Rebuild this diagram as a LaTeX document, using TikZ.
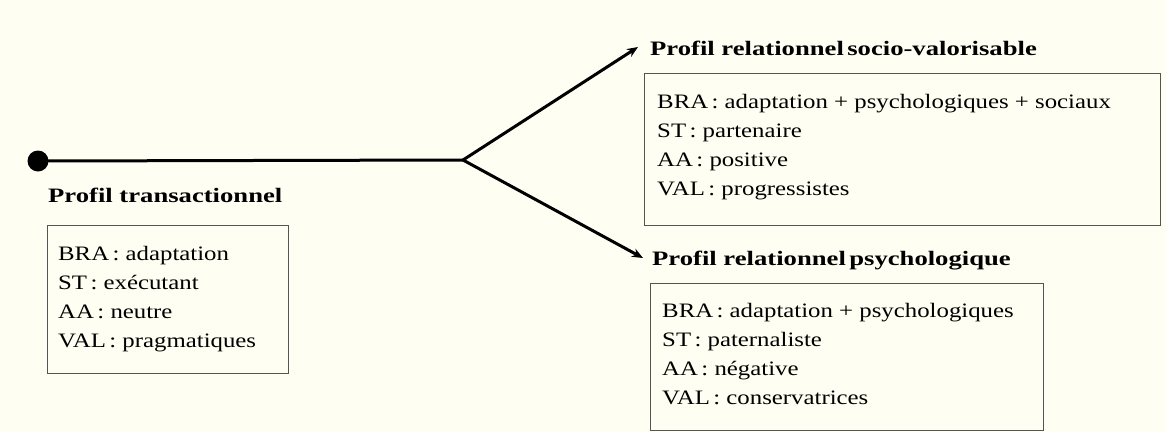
\documentclass[tikz,border=0pt]{standalone}
\usepackage{fontspec}
\setmainfont{Liberation Serif}[FakeStretch=1.21, BoldFeatures={FakeStretch=1.3}]
\usetikzlibrary{arrows.meta}
\definecolor{bg}{RGB}{255,254,242}
\definecolor{frame}{RGB}{85,85,85}
\begin{document}
\begin{tikzpicture}[x=1pt,y=-1pt,
  head/.style={font=\fontsize{20.5}{24}\selectfont\bfseries, inner sep=0pt, anchor=base west},
  boxframe/.style={draw=frame, line width=1pt, anchor=north west, inner sep=0pt},
  boxtext/.style={anchor=north west, align=left, inner sep=0pt,
              font=\fontsize{20.5}{29}\selectfont},
  conn/.style={line width=3pt},
  arr/.style={conn, -{Stealth[length=11pt,width=9pt]}},
  dotnode/.style={circle, fill=black, inner sep=0pt, minimum size=21pt}]
\fill[bg] (0,0) rectangle (1166,432);
\useasboundingbox (0,0) rectangle (1166,432);

\node[dotnode] (dot) at (38,161) {};
\coordinate (br) at (463,160);
\coordinate (t1) at (638,47);
\coordinate (t2) at (643,258);

\node[head] (h0) at (48,202) {Profil transactionnel};
\node[head] (h1) at (650,55) {Profil relationnel\,socio-valorisable};
\node[head] (h2) at (652,265) {Profil relationnel\,psychologique};

\node[boxframe, minimum width=241pt, minimum height=148pt] (b0) at (47,225) {};
\node[boxtext] (b0t) at (58,246.5)
  {BRA\,: adaptation\\ST\,: exécutant\\AA\,: neutre\\VAL\,: pragmatiques};
\node[boxframe, minimum width=516pt, minimum height=152pt] (b1) at (644,73) {};
\node[boxtext] (b1t) at (657,94.5)
  {BRA\,: adaptation + psychologiques + sociaux\\ST\,: partenaire\\AA\,: positive\\VAL\,: progressistes};
\node[boxframe, minimum width=393pt, minimum height=147pt] (b2) at (650,283) {};
\node[boxtext] (b2t) at (662,303.5)
  {BRA\,: adaptation + psychologiques\\ST\,: paternaliste\\AA\,: négative\\VAL\,: conservatrices};

\draw[conn] (dot.center) -- (br);
\draw[arr] (br) -- (t1);
\draw[arr] (br) -- (t2);
\end{tikzpicture}
\end{document}
